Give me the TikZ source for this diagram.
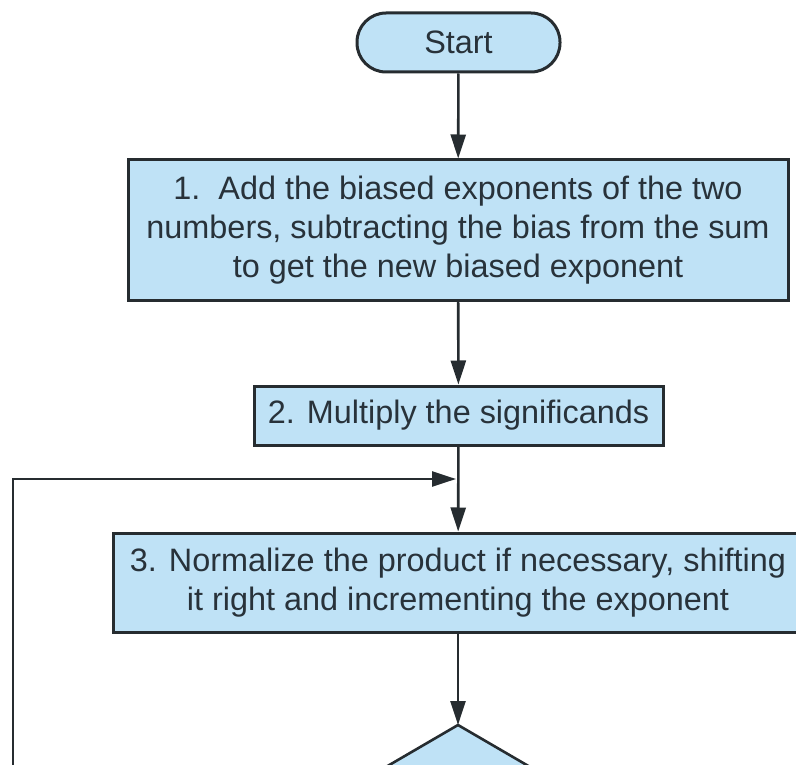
\documentclass[tikz,border=0pt]{standalone}
\usepackage{fontspec}
\setmainfont{Liberation Sans}
\usetikzlibrary{arrows.meta}
\definecolor{boxfill}{RGB}{191,226,246}
\definecolor{boxline}{RGB}{38,44,48}
\definecolor{txt}{RGB}{40,50,58}
\tikzset{
  every picture/.style={x=1pt,y=-1pt},
  flowbox/.style={draw=boxline, line width=3pt, fill=boxfill, text=txt,
    font=\fontsize{32.4}{39}\selectfont, align=center, inner sep=0pt},
  startbox/.style={flowbox, rounded corners=29pt},
  conn/.style={draw=boxline, line width=2.6pt, -{Triangle[length=24pt,width=15pt]}},
  plainconn/.style={draw=boxline, line width=2.6pt}
}
\begin{document}
\begin{tikzpicture}
\useasboundingbox (0,0) rectangle (796,765);
\clip (0,0) rectangle (796,765);
\node[startbox, minimum width=203pt, minimum height=59pt] (start) at (458.5,42.5) {Start};
\node[flowbox, minimum width=660pt, minimum height=140pt] (b1) at (458,230)
  {1.\ \ Add the biased exponents of the two\\numbers, subtracting the bias from the sum\\to get the new biased exponent};
\node[flowbox, minimum width=409pt, minimum height=59pt] (b2) at (458.5,415.5) {2. Multiply the significands};
\node[flowbox, minimum width=690pt, minimum height=99pt] (b3) at (458,582.5)
  {3. Normalize the product if necessary, shifting\\it right and incrementing the exponent};
\coordinate (dtop) at (458,725);
\coordinate (join) at (458,479);
\coordinate (loopb) at (13,780);
\coordinate (loopc) at (13,479);
\fill[boxfill] (dtop) -- (458+170,725+99) -- (458-170,725+99) -- cycle;
\draw[boxline, line width=2.6pt, line join=miter] (458-170,725+99) -- (dtop) -- (458+170,725+99);
\draw[conn] (start) -- (b1);
\draw[conn] (b1) -- (b2);
\draw[conn] (b2) -- (b3);
\draw[conn] (b3) -- (dtop);
\draw[conn] (loopb) -- (loopc) -- ([xshift=-2pt]join);
\end{tikzpicture}
\end{document}
